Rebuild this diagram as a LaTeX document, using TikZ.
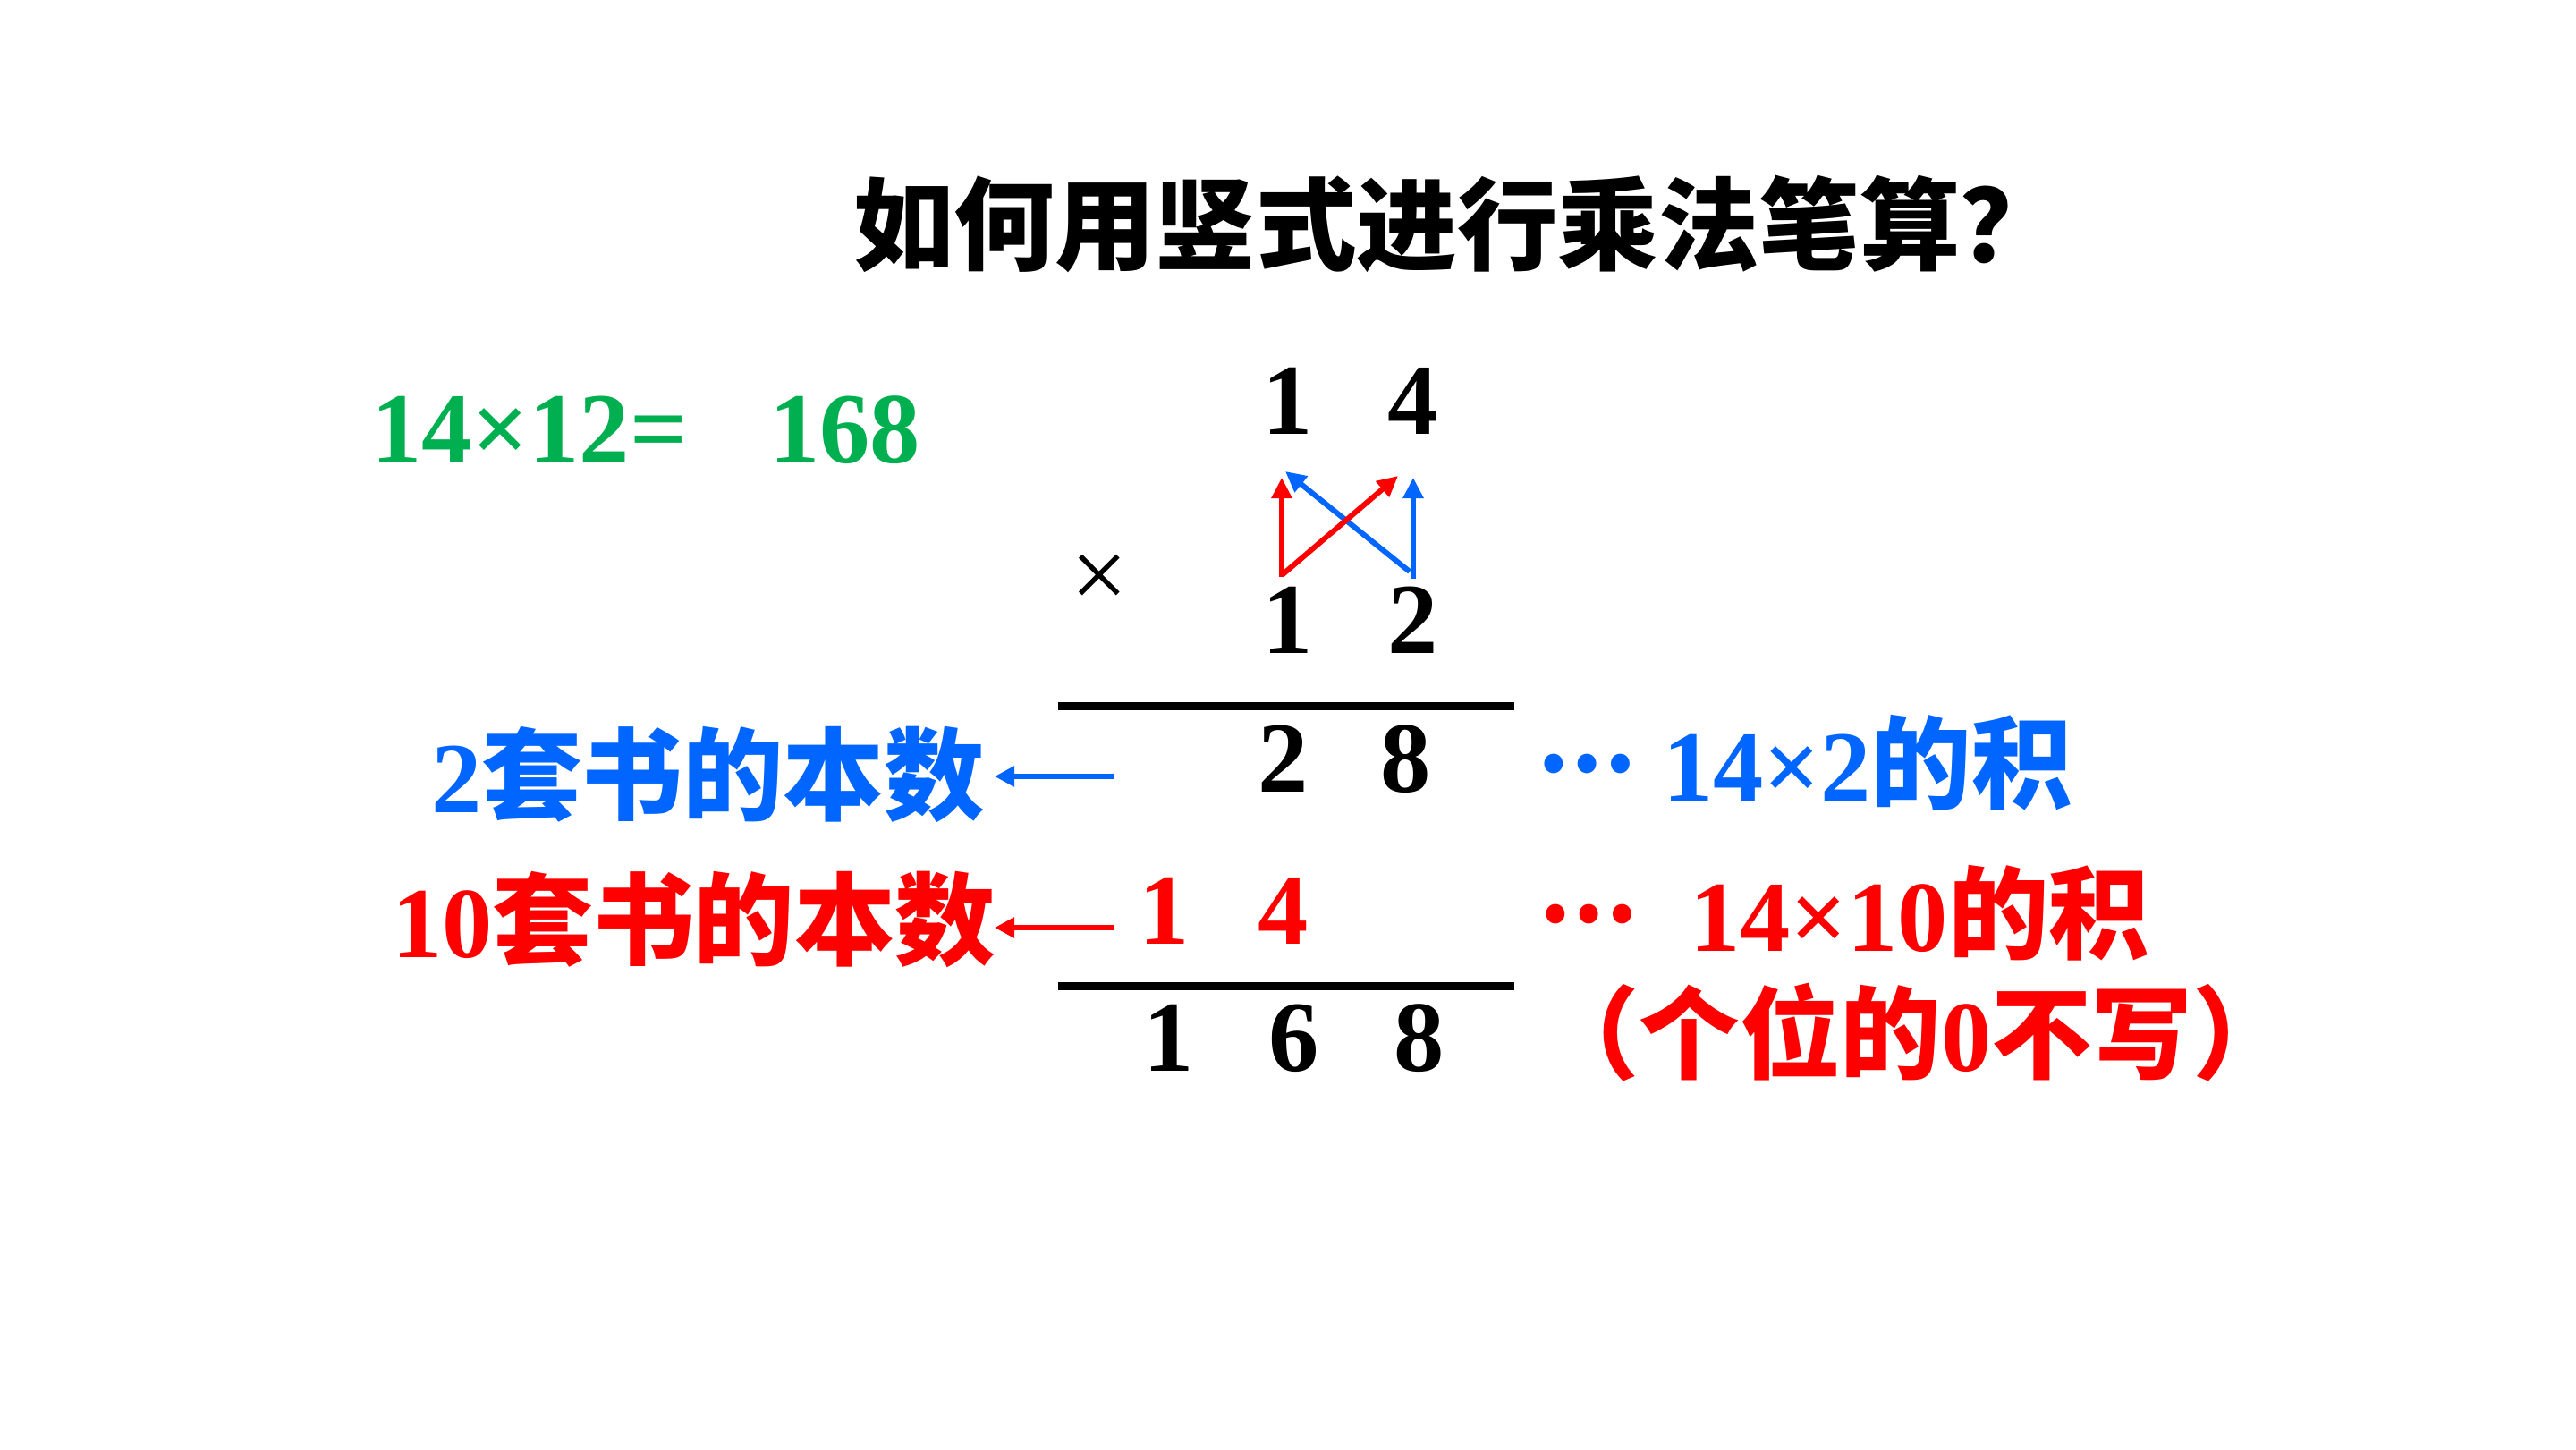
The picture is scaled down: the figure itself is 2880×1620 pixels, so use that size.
\documentclass[tikz,border=0pt]{standalone}
\usepackage{fontspec}
\setmainfont{Liberation Serif}
\newfontfamily\cjk{Noto Sans CJK SC}
\usetikzlibrary{arrows.meta}
\definecolor{pgreen}{RGB}{0,176,80}
\definecolor{pblue}{RGB}{0,102,255}
\definecolor{pred}{RGB}{255,0,0}
\newcommand\bigsz{\fontsize{32pt}{38pt}\selectfont}
\newcommand\zh[1]{{\cjk\bfseries #1}}
\begin{document}
\begin{tikzpicture}[x=0.01cm,y=-0.01cm,
  every node/.style={inner sep=0pt,outer sep=0pt},
  digit/.style={anchor=base,font=\bigsz\bfseries},
  lbl/.style={anchor=base west,font=\bigsz\bfseries},
  dots/.style={anchor=west,font=\fontsize{28pt}{32pt}\selectfont\cjk\bfseries},
  rule/.style={line width=0.09cm},
  arr/.style={line width=0.06cm,-{Triangle[length=0.23cm,width=0.22cm]}},
  larr/.style={line width=0.06cm,-{Triangle[length=0.22cm,width=0.22cm]}}]
\useasboundingbox[fill=white] (0,0) rectangle (2880,1620);

% title
\node[lbl] (title) at (954,293) {\zh{如何用竖式进行乘法笔算？}};

% green equation
\node[lbl,text=pgreen] (eq) at (415,517) {14×12=};
\node[lbl,text=pgreen] (res) at (860,517) {168};

% vertical multiplication
\node[digit] (t1) at (1440,485) {1};
\node[digit] (t4) at (1580,485) {4};
\node[anchor=center,font=\bigsz\mdseries] (times) at (1229,650) {×};
\node[digit] (b1) at (1440,730) {1};
\node[digit] (b2) at (1580,730) {2};

\coordinate (rvS) at (1433,645);
\coordinate (rvE) at (1433,534);
\coordinate (rdS) at (1433,643);
\coordinate (rdE) at (1563,532);
\coordinate (bdS) at (1576,639);
\coordinate (bdE) at (1437,527);
\coordinate (bvS) at (1580,647);
\coordinate (bvE) at (1580,534);
\draw[arr,pblue] (bdS) -- (bdE);
\draw[arr,pblue] (bvS) -- (bvE);
\draw[arr,pred] (rvS) -- (rvE);
\draw[arr,pred] (rdS) -- (rdE);

\coordinate (l1a) at (1183,789);
\coordinate (l1b) at (1693,789);
\draw[rule] (l1a) -- (l1b);

\node[digit] (p2) at (1435,885) {2};
\node[digit] (p8) at (1572,885) {8};
\node[digit,text=pred] (r1) at (1302,1055) {1};
\node[digit,text=pred] (r4) at (1435,1055) {4};

\coordinate (l2a) at (1183,1102);
\coordinate (l2b) at (1693,1102);
\draw[rule] (l2a) -- (l2b);

\node[digit] (s1) at (1307,1197) {1};
\node[digit] (s6) at (1447,1197) {6};
\node[digit] (s8) at (1587,1197) {8};

% left labels
\node[lbl,text=pblue] (lblue) at (482,908) {2\zh{套书的本数}};
\node[lbl,text=pred] (lred) at (438,1070) {10\zh{套书的本数}};
\coordinate (ab0) at (1246,868);
\coordinate (ab1) at (1112,868);
\coordinate (ar0) at (1246,1037);
\coordinate (ar1) at (1112,1037);
\draw[larr,pblue] (ab0) -- (ab1);
\draw[larr,pred] (ar0) -- (ar1);

% right labels
\node[dots,text=pblue] (dotsB) at (1718,854) {…};
\node[lbl,text=pblue] (rblue) at (1859,895) {14×2\zh{的积}};
\node[dots,text=pred] (dotsR) at (1720,1022) {…};
\node[lbl,text=pred] (rred) at (1889,1063) {14×10\zh{的积}};
\node[lbl,text=pred] (note) at (1720,1197) {\zh{（个位的}0\zh{不写）}};
\end{tikzpicture}
\end{document}
